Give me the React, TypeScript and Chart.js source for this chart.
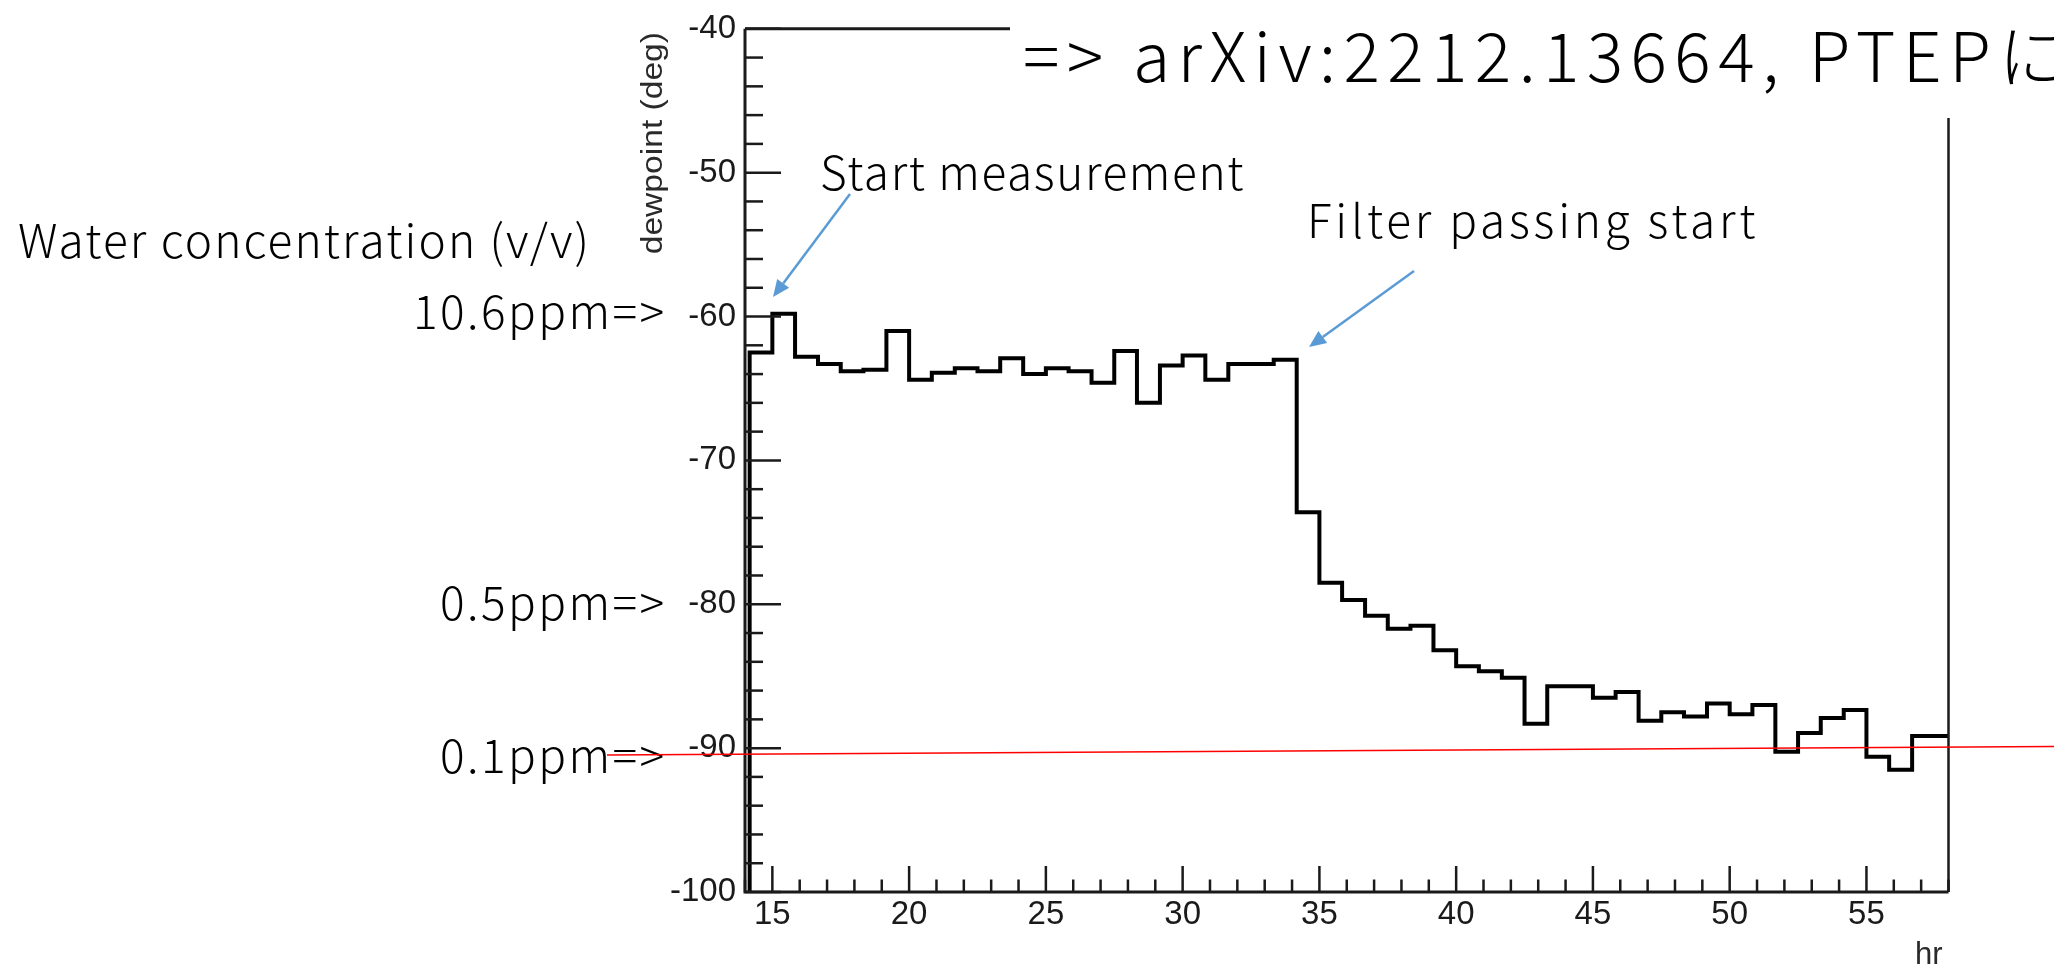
import React, { useEffect, useRef } from 'react';
import { Chart, registerables } from 'chart.js';

Chart.register(...registerables);

// Histogram bins (left edge in hours) and dew point per bin (deg C)
const binStartHours = [
  14.17, 15.0, 15.83, 16.67, 17.5, 18.33, 19.17, 20.0, 20.83, 21.67, 22.5, 23.33,
  24.17, 25.0, 25.83, 26.67, 27.5, 28.33, 29.17, 30.0, 30.83, 31.67, 32.5, 33.33,
  34.17, 35.0, 35.83, 36.67, 37.5, 38.33, 39.17, 40.0, 40.83, 41.67, 42.5, 43.33,
  44.17, 45.0, 45.83, 46.67, 47.5, 48.33, 49.17, 50.0, 50.83, 51.67, 52.5, 53.33,
  54.17, 55.0, 55.83, 56.67, 57.5,
];
const dewpointDeg = [
  -62.5, -59.8, -62.8, -63.3, -63.8, -63.7, -61.0, -64.4, -63.9, -63.6, -63.8, -62.9,
  -64.0, -63.6, -63.8, -64.6, -62.4, -66.0, -63.4, -62.7, -64.4, -63.3, -63.3, -63.0,
  -73.6, -78.5, -79.7, -80.8, -81.7, -81.5, -83.2, -84.3, -84.65, -85.1, -88.3, -85.7,
  -85.7, -86.5, -86.1, -88.1, -87.5, -87.8, -86.9, -87.65, -87.0, -90.25, -88.95, -87.9,
  -87.35, -90.6, -91.5, -89.15, -89.15,
];

const hourMin = 14;
const hourMax = 58;
const dewMin = -100;
const dewMax = -40;
const hourTickStep = 5;
const dewTickStep = 10;

const yTitle = 'dewpoint (deg)';
const xTitle = 'hr';
const refText = '=> arXiv:2212.13664, PTEPに';
const startLabel = 'Start measurement';
const filterLabel = 'Filter passing start';
const concTitle = 'Water concentration (v/v)';
const concLabels = ['10.6ppm=>', '0.5ppm=>', '0.1ppm=>'];

const JP = '"Noto Sans CJK JP", "Noto Sans", sans-serif';
const SANS = '"Liberation Sans", Arial, Helvetica, sans-serif';

function arrow(ctx: CanvasRenderingContext2D, x1: number, y1: number, x2: number, y2: number) {
  const ang = Math.atan2(y2 - y1, x2 - x1);
  const hl = 17, hw = 7.5;
  const bx = x2 - hl * Math.cos(ang);
  const by = y2 - hl * Math.sin(ang);
  ctx.beginPath();
  ctx.moveTo(x1, y1);
  ctx.lineTo(bx, by);
  ctx.stroke();
  ctx.beginPath();
  ctx.moveTo(x2, y2);
  ctx.lineTo(bx + hw * Math.sin(ang), by - hw * Math.cos(ang));
  ctx.lineTo(bx - hw * Math.sin(ang), by + hw * Math.cos(ang));
  ctx.closePath();
  ctx.fill();
}

function spaced(ctx: CanvasRenderingContext2D, text: string, x: number, y: number, spacing: number, align: 'left' | 'right') {
  (ctx as any).letterSpacing = `${spacing}px`;
  ctx.textAlign = align;
  ctx.fillText(text, align === 'right' ? x + spacing : x, y);
  (ctx as any).letterSpacing = '0px';
}

const overlayPlugin = {
  id: 'overlay',
  afterDatasetsDraw(chart: any) {
    const { ctx, chartArea: ca, scales } = chart;
    const x = scales.x;
    const y = scales.y;
    ctx.save();
    ctx.strokeStyle = '#1a1a1a';
    ctx.lineCap = 'butt';
    // inward ticks
    ctx.lineWidth = 2.5;
    for (let v = dewMin; v <= dewMax; v += 2) {
      const py = y.getPixelForValue(v);
      const len = v % 10 === 0 ? 36 : 18;
      ctx.beginPath();
      ctx.moveTo(ca.left, py);
      ctx.lineTo(ca.left + len, py);
      ctx.stroke();
    }
    for (let v = hourMin; v <= hourMax; v += 1) {
      const px = x.getPixelForValue(v);
      const len = v % 5 === 0 ? 26 : 12.5;
      ctx.beginPath();
      ctx.moveTo(px, ca.bottom);
      ctx.lineTo(px, ca.bottom - len);
      ctx.stroke();
    }
    // frame
    ctx.lineWidth = 3;
    ctx.beginPath();
    ctx.moveTo(ca.left, ca.top);
    ctx.lineTo(ca.left, ca.bottom);
    ctx.lineTo(ca.right, ca.bottom);
    ctx.stroke();
    ctx.beginPath();
    ctx.moveTo(ca.left, ca.top);
    ctx.lineTo(ca.right, ca.top);
    ctx.stroke();
    ctx.lineWidth = 2.5;
    ctx.beginPath();
    ctx.moveTo(ca.right, ca.top);
    ctx.lineTo(ca.right, ca.bottom);
    ctx.stroke();

    // axis titles (right-aligned at the axis ends, ROOT style)
    ctx.fillStyle = '#2a2a2a';
    ctx.font = `30px ${SANS}`;
    ctx.save();
    ctx.translate(662, 32);
    ctx.rotate(-Math.PI / 2);
    ctx.scale(1.12, 1);
    ctx.textAlign = 'right';
    ctx.textBaseline = 'alphabetic';
    ctx.fillText(yTitle, 0, 0);
    ctx.restore();
    ctx.font = `31px ${SANS}`;
    ctx.textAlign = 'right';
    ctx.textBaseline = 'alphabetic';
    ctx.fillText(xTitle, ca.right - 6, 964);

    // white box behind the reference text
    ctx.fillStyle = '#fff';
    ctx.fillRect(1010, 0, 1100, 118);

    // slide annotations
    ctx.fillStyle = '#000';
    ctx.textBaseline = 'alphabetic';
    ctx.font = `300 68px ${JP}`;
    spaced(ctx, refText, 1023, 82, 7.4, 'left');
    ctx.font = `300 46px ${JP}`;
    spaced(ctx, startLabel, 820, 190, 1.6, 'left');
    spaced(ctx, filterLabel, 1307, 238, 3.8, 'left');
    spaced(ctx, concTitle, 18, 258, 2.1, 'left');
    spaced(ctx, concLabels[0], 664, 329, 2.4, 'right');
    spaced(ctx, concLabels[1], 664, 620, 2.4, 'right');
    spaced(ctx, concLabels[2], 664, 773, 2.4, 'right');

    // arrows
    ctx.strokeStyle = '#5B9BD5';
    ctx.fillStyle = '#5B9BD5';
    ctx.lineWidth = 2.5;
    arrow(ctx, 850, 194, 773, 297);
    arrow(ctx, 1414, 271, 1309, 347);

    // red reference line
    ctx.strokeStyle = '#FF0000';
    ctx.lineWidth = 1.6;
    ctx.beginPath();
    ctx.moveTo(607, 755);
    ctx.lineTo(2054, 746.5);
    ctx.stroke();
    ctx.restore();
  },
};

export default function App() {
  const ref = useRef<HTMLCanvasElement>(null);
  useEffect(() => {
    const canvas = ref.current;
    if (!canvas) return;
    const points = [
      { x: binStartHours[0], y: dewMin },
      ...binStartHours.map((h, i) => ({ x: h, y: dewpointDeg[i] })),
      { x: hourMax, y: dewpointDeg[dewpointDeg.length - 1] },
    ];
    const chart = new Chart(canvas, {
      type: 'line',
      data: {
        datasets: [
          {
            data: points,
            borderColor: '#000',
            borderWidth: 4,
            pointRadius: 0,
            fill: false,
            stepped: 'before',
            borderJoinStyle: 'miter',
            borderCapStyle: 'butt',
          },
        ],
      },
      options: {
        responsive: false,
        animation: false,
        devicePixelRatio: 1,
        layout: { padding: { left: 0, top: 24, right: 105.5, bottom: 0 } },
        plugins: { legend: { display: false }, tooltip: { enabled: false }, title: { display: false } },
        scales: {
          x: {
            type: 'linear',
            min: hourMin,
            max: hourMax,
            afterFit: (s: any) => { s.height = 77; },
            grid: { display: false, drawTicks: false },
            border: { display: false },
            ticks: {
              stepSize: hourTickStep,
              includeBounds: false,
              autoSkip: false,
              maxRotation: 0,
              padding: 3.5,
              color: '#1a1a1a',
              font: { family: SANS, size: 33 },
            },
          },
          y: {
            type: 'linear',
            min: dewMin,
            max: dewMax,
            afterFit: (s: any) => { s.width = 745; },
            grid: { display: false, drawTicks: false },
            border: { display: false },
            ticks: {
              stepSize: dewTickStep,
              autoSkip: false,
              padding: 9,
              color: '#1a1a1a',
              font: { family: SANS, size: 33 },
            },
          },
        },
      },
      plugins: [overlayPlugin],
    } as any);
    return () => chart.destroy();
  }, []);
  return (
    <div style={{ position: 'absolute', left: 0, top: 0, width: 2054, height: 969, background: '#fff' }}>
      <canvas ref={ref} width={2054} height={969} style={{ width: 2054, height: 969, display: 'block' }} />
    </div>
  );
}
